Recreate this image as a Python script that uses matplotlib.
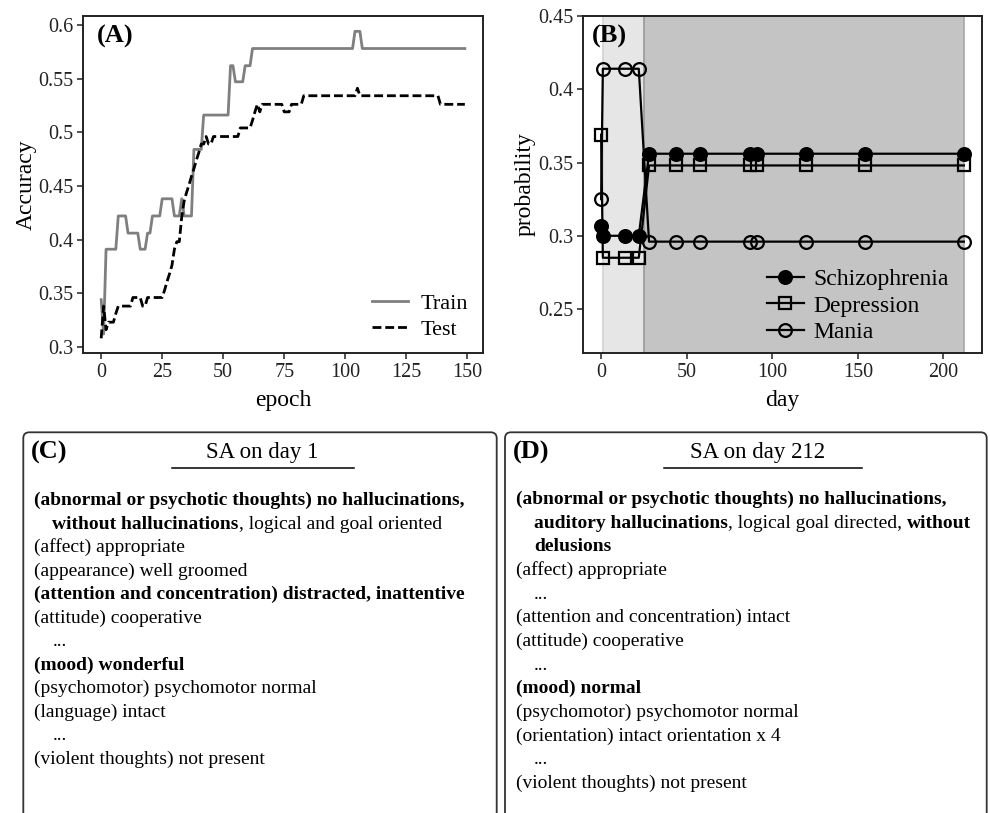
import matplotlib
matplotlib.use('Agg')
import matplotlib.pyplot as plt
from matplotlib.patches import FancyBboxPatch
from matplotlib.ticker import FuncFormatter

plt.rcParams['font.family'] = ['Liberation Serif', 'DejaVu Serif']

# (A) training curves, one value per epoch
epoch = list(range(150))
train_acc = [
    0.344, 0.312, 0.391, 0.391, 0.391, 0.391, 0.391, 0.422, 0.422, 0.422,
    0.422, 0.406, 0.406, 0.406, 0.406, 0.406, 0.391, 0.391, 0.391, 0.406,
    0.406, 0.422, 0.422, 0.422, 0.422, 0.438, 0.438, 0.438, 0.438, 0.438,
    0.422, 0.422, 0.422, 0.438, 0.422, 0.422, 0.422, 0.422, 0.484, 0.484,
    0.484, 0.484, 0.516, 0.516, 0.516, 0.516, 0.516, 0.516, 0.516, 0.516,
    0.516, 0.516, 0.516, 0.562, 0.562, 0.547, 0.547, 0.547, 0.547, 0.562,
    0.562, 0.562, 0.578, 0.578, 0.578, 0.578, 0.578, 0.578, 0.578, 0.578,
    0.578, 0.578, 0.578, 0.578, 0.578, 0.578, 0.578, 0.578, 0.578, 0.578,
    0.578, 0.578, 0.578, 0.578, 0.578, 0.578, 0.578, 0.578, 0.578, 0.578,
    0.578, 0.578, 0.578, 0.578, 0.578, 0.578, 0.578, 0.578, 0.578, 0.578,
    0.578, 0.578, 0.578, 0.578, 0.594, 0.594, 0.594, 0.578, 0.578, 0.578,
    0.578, 0.578, 0.578, 0.578, 0.578, 0.578, 0.578, 0.578, 0.578, 0.578,
    0.578, 0.578, 0.578, 0.578, 0.578, 0.578, 0.578, 0.578, 0.578, 0.578,
    0.578, 0.578, 0.578, 0.578, 0.578, 0.578, 0.578, 0.578, 0.578, 0.578,
    0.578, 0.578, 0.578, 0.578, 0.578, 0.578, 0.578, 0.578, 0.578, 0.578,
]
test_acc = [
    0.308, 0.338, 0.316, 0.323, 0.323, 0.323, 0.331, 0.338, 0.338, 0.338,
    0.338, 0.338, 0.338, 0.346, 0.346, 0.346, 0.346, 0.338, 0.338, 0.346,
    0.346, 0.346, 0.346, 0.346, 0.346, 0.346, 0.353, 0.361, 0.368, 0.376,
    0.391, 0.398, 0.398, 0.421, 0.436, 0.444, 0.451, 0.459, 0.466, 0.474,
    0.481, 0.489, 0.489, 0.496, 0.489, 0.489, 0.496, 0.496, 0.496, 0.496,
    0.496, 0.496, 0.496, 0.496, 0.496, 0.496, 0.496, 0.504, 0.504, 0.504,
    0.504, 0.504, 0.511, 0.519, 0.526, 0.519, 0.526, 0.526, 0.526, 0.526,
    0.526, 0.526, 0.526, 0.526, 0.526, 0.519, 0.519, 0.519, 0.526, 0.526,
    0.526, 0.526, 0.526, 0.534, 0.534, 0.534, 0.534, 0.534, 0.534, 0.534,
    0.534, 0.534, 0.534, 0.534, 0.534, 0.534, 0.534, 0.534, 0.534, 0.534,
    0.534, 0.534, 0.534, 0.534, 0.534, 0.541, 0.534, 0.534, 0.534, 0.534,
    0.534, 0.534, 0.534, 0.534, 0.534, 0.534, 0.534, 0.534, 0.534, 0.534,
    0.534, 0.534, 0.534, 0.534, 0.534, 0.534, 0.534, 0.534, 0.534, 0.534,
    0.534, 0.534, 0.534, 0.534, 0.534, 0.534, 0.534, 0.534, 0.534, 0.526,
    0.526, 0.526, 0.526, 0.526, 0.526, 0.526, 0.526, 0.526, 0.526, 0.526,
]

# (B) predicted class probabilities per visit day
day = [0, 1, 14, 22, 28, 44, 58, 87, 91, 120, 154, 212]
schizophrenia = [0.307, 0.300, 0.300, 0.300, 0.356, 0.356, 0.356, 0.356, 0.356, 0.356, 0.356, 0.356]
depression = [0.369, 0.285, 0.285, 0.285, 0.348, 0.348, 0.348, 0.348, 0.348, 0.348, 0.348, 0.348]
mania = [0.325, 0.414, 0.414, 0.414, 0.296, 0.296, 0.296, 0.296, 0.296, 0.296, 0.296, 0.296]
phase_bounds = [1, 25, 212]

# (C)/(D) structured assessment excerpts: (indent, [(text, bold), ...])
sa_day1 = [
    (0, [("(abnormal or psychotic thoughts) no hallucinations,", True)]),
    (1, [("without hallucinations", True), (", logical and goal oriented", False)]),
    (0, [("(affect) appropriate", False)]),
    (0, [("(appearance) well groomed", False)]),
    (0, [("(attention and concentration) distracted, inattentive", True)]),
    (0, [("(attitude) cooperative", False)]),
    (1, [("...", False)]),
    (0, [("(mood) wonderful", True)]),
    (0, [("(psychomotor) psychomotor normal", False)]),
    (0, [("(language) intact", False)]),
    (1, [("...", False)]),
    (0, [("(violent thoughts) not present", False)]),
]
sa_day212 = [
    (0, [("(abnormal or psychotic thoughts) no hallucinations,", True)]),
    (1, [("auditory hallucinations", True), (", logical goal directed, ", False), ("without", True)]),
    (1, [("delusions", True)]),
    (0, [("(affect) appropriate", False)]),
    (1, [("...", False)]),
    (0, [("(attention and concentration) intact", False)]),
    (0, [("(attitude) cooperative", False)]),
    (1, [("...", False)]),
    (0, [("(mood) normal", True)]),
    (0, [("(psychomotor) psychomotor normal", False)]),
    (0, [("(orientation) intact orientation x 4", False)]),
    (1, [("...", False)]),
    (0, [("(violent thoughts) not present", False)]),
]

fig = plt.figure(figsize=(9.9, 8.13), dpi=100)
W, H = 990, 813
ax_a = fig.add_axes([83 / W, 1 - 353 / H, 400 / W, 337 / H])
ax_b = fig.add_axes([583 / W, 1 - 353 / H, 399 / W, 337 / H])

fmt = FuncFormatter(lambda v, p: '%g' % round(v, 3))


def style_axes(ax):
    for s in ax.spines.values():
        s.set_linewidth(1.4)
        s.set_color('#222222')
    ax.tick_params(direction='out', length=4, width=1.1, labelsize=14.5,
                   colors='#222222', labelcolor='#222222', pad=3)
    ax.yaxis.set_major_formatter(fmt)


# ---- panel A
ax_a.plot(epoch, train_acc, color='#7f7f7f', lw=2.0, label='Train')
ax_a.plot(epoch, test_acc, color='black', lw=2.0, ls=(0, (3.2, 1.4)), label='Test')
ax_a.set_xlim(-7.45, 156.45)
ax_a.set_ylim(0.2943, 0.6083)
ax_a.set_xticks([0, 25, 50, 75, 100, 125, 150])
ax_a.set_yticks([0.3, 0.35, 0.4, 0.45, 0.5, 0.55, 0.6])
style_axes(ax_a)
ax_a.set_xlabel('epoch', fontsize=17)
ax_a.set_ylabel('Accuracy', fontsize=17)
ax_a.xaxis.set_label_coords(0.5, -(400 - 353) / 337)
ax_a.xaxis.label.set_va('center')
ax_a.yaxis.set_label_coords((26 - 83) / 400, 0.5)
ax_a.yaxis.label.set_va('center')
ax_a.text(0.035, 0.92, '(A)', transform=ax_a.transAxes, fontsize=19,
          fontweight='bold', va='baseline', ha='left')
ax_a.legend(loc='lower right', bbox_to_anchor=(0.9625, 0.04), frameon=False,
            fontsize=16, handlelength=1.62, handletextpad=0.55,
            labelspacing=0.22, borderpad=0, borderaxespad=0)

# ---- panel B
ax_b.axvspan(phase_bounds[0], phase_bounds[1], color='#e6e6e6', lw=0, zorder=0)
ax_b.axvspan(phase_bounds[1], phase_bounds[2], color='#c4c4c4', lw=0, zorder=0)
ax_b.axvline(phase_bounds[0], color='#d2d2d2', lw=1.2, zorder=0.5)
ax_b.axvline(phase_bounds[1], color='#999999', lw=1.2, zorder=0.5)
ax_b.axvline(phase_bounds[2], color='#a8a8a8', lw=1.2, zorder=0.5)

ax_b.plot(day, schizophrenia, color='black', lw=1.6, marker='o', ms=9.2,
          mfc='black', mec='black', mew=1.6, label='Schizophrenia')
ax_b.plot(day, depression, color='black', lw=1.6, marker='s', ms=8.8,
          mfc='none', mec='black', mew=1.6, label='Depression')
ax_b.plot(day, mania, color='black', lw=1.6, marker='o', ms=9.2,
          mfc='none', mec='black', mew=1.6, label='Mania')
ax_b.set_xlim(-10.6, 222.6)
ax_b.set_ylim(0.22, 0.45)
ax_b.set_xticks([0, 50, 100, 150, 200])
ax_b.set_yticks([0.25, 0.3, 0.35, 0.4, 0.45])
style_axes(ax_b)
ax_b.set_xlabel('day', fontsize=17)
ax_b.set_ylabel('probability', fontsize=17)
ax_b.xaxis.set_label_coords(0.5, -(400 - 353) / 337)
ax_b.xaxis.label.set_va('center')
ax_b.yaxis.set_label_coords((525 - 583) / 399, 0.5)
ax_b.yaxis.label.set_va('center')
ax_b.text(0.022, 0.92, '(B)', transform=ax_b.transAxes, fontsize=19,
          fontweight='bold', va='baseline', ha='left')
ax_b.legend(loc='lower left', bbox_to_anchor=(0.461, 0.03), frameon=False,
            fontsize=17, handlelength=1.55, handletextpad=0.43,
            labelspacing=0.2, borderpad=0, borderaxespad=0, numpoints=1)

# ---- text panels C and D, drawn in pixel coordinates
ov = fig.add_axes([0, 0, 1, 1])
ov.set_xlim(0, W)
ov.set_ylim(H, 0)
ov.axis('off')
ov.patch.set_visible(False)
renderer = fig.canvas.get_renderer()


def draw_panel(x0, x1, tag, title, title_cx, ul, body, base0, step):
    box = FancyBboxPatch((x0, 432.3), x1 - x0, 420,
                         boxstyle='round,pad=0,rounding_size=6',
                         fc='none', ec='#333333', lw=1.3, clip_on=False)
    ov.add_patch(box)
    ov.text(x0 + 8, 459, tag, fontsize=19, fontweight='bold',
            va='baseline', ha='left')
    ov.text(title_cx, 457.8, title, fontsize=16.5, va='baseline', ha='center')
    ov.plot(ul, [467.5, 467.5], color='black', lw=1.1)
    for i, (indent, segs) in enumerate(body):
        x = x0 + 11 + (18 if indent else 0)
        y = base0 + i * step
        for txt, bold in segs:
            t = ov.text(x, y, txt, fontsize=14, va='baseline', ha='left',
                        fontweight='bold' if bold else 'normal')
            x += t.get_window_extent(renderer=renderer).width


draw_panel(23.3, 496.7, '(C)', 'SA on day 1', 261.7, [172.3, 354.3],
           sa_day1, 505, 23.5)
draw_panel(505, 986.7, '(D)', 'SA on day 212', 758, [664, 861.7],
           sa_day212, 504, 23.67)

fig.savefig('out.png', dpi=100)
